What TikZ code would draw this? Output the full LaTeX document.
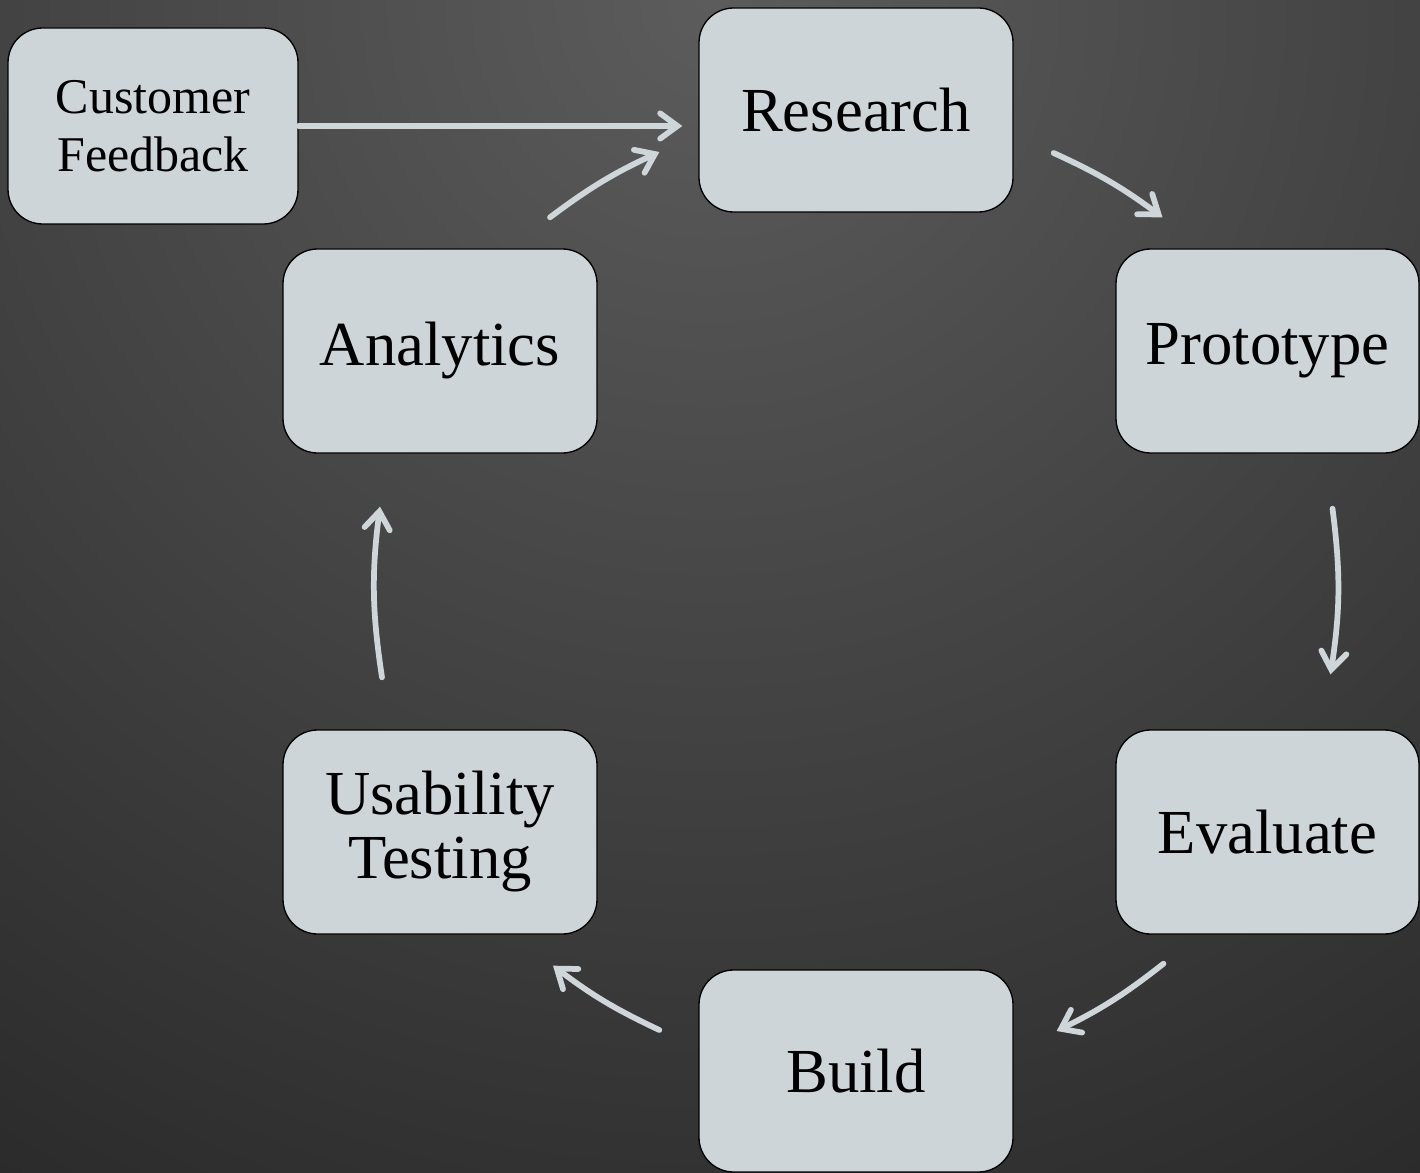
\documentclass[tikz,border=0pt]{standalone}
\usepackage{fontspec}
\setmainfont{Liberation Serif}
\usetikzlibrary{arrows.meta,calc}

\definecolor{boxfill}{RGB}{206,213,217}
\definecolor{flowcol}{RGB}{207,214,218}
\definecolor{bgtop}{RGB}{92,92,92}
\definecolor{bgbot}{RGB}{26,26,26}

\tikzset{every picture/.style={line width=0.75pt}}
\tikzset{
  stage/.style={draw=black, line width=1pt, fill=boxfill, rounded corners=26pt,
    minimum width=235.5pt, minimum height=153pt, inner sep=0pt, align=center,
    font=\fontsize{47}{48}\selectfont},
  flow/.style={draw=flowcol, line width=4.3pt, line cap=round,
    -{Straight Barb[length=13pt,width=19pt,line cap=round]}},
}

\begin{document}
\begin{tikzpicture}[x=0.75pt,y=0.75pt,yscale=-1,xscale=1]
\useasboundingbox (0,0) rectangle (1420,1173);

% Background
\begin{scope}
\clip (0,0) rectangle (1420,1173);
\shade[inner color=bgtop, outer color=bgbot] (710,0) circle [radius=1850];
\end{scope}

% Text Node
\node[stage, minimum width=217.5pt, minimum height=147pt, font=\fontsize{37.5}{43.5}\selectfont] (fb) at (153,126) {Customer\\Feedback};
% Text Node
\node[stage] (res) at (856,110) {Research};
% Text Node
\node[stage, minimum width=227.25pt] (proto) at (1267.5,351) {Prototype};
% Text Node
\node[stage, minimum width=227.25pt] (eval) at (1267.5,832) {Evaluate};
% Text Node
\node[stage, minimum height=151.5pt] (build) at (856,1071) {Build};
% Text Node
\node[stage] (use) at (440,832) {Usability\\Testing};
% Text Node
\node[stage] (ana) at (440,351) {Analytics};

% Connection
\draw[flow] (fb.east) -- ($(fb.east -| res.west)+(-16,0)$);
% Connection
\draw[flow] ($(ana.north)+(110,-31)$) to[bend right=6] ($(res.west)+(-39,42)$);
% Connection
\draw[flow] ($(res.east)+(40,43)$) to[bend right=6] ($(proto.north)+(-105,-31)$);
% Connection
\draw[flow] ($(proto.south)+(65,55)$) to[bend right=8] ($(eval.north)+(63,-55)$);
% Connection
\draw[flow] ($(eval.south)+(-104,29)$) to[bend right=6] ($(build.east)+(43,-40)$);
% Connection
\draw[flow] ($(build.west)+(-39,-41)$) to[bend right=6] ($(use.south)+(113,31)$);
% Connection
\draw[flow] ($(use.north)+(-58,-52)$) to[bend right=8] ($(ana.south)+(-60,53)$);

\end{tikzpicture}
\end{document}
